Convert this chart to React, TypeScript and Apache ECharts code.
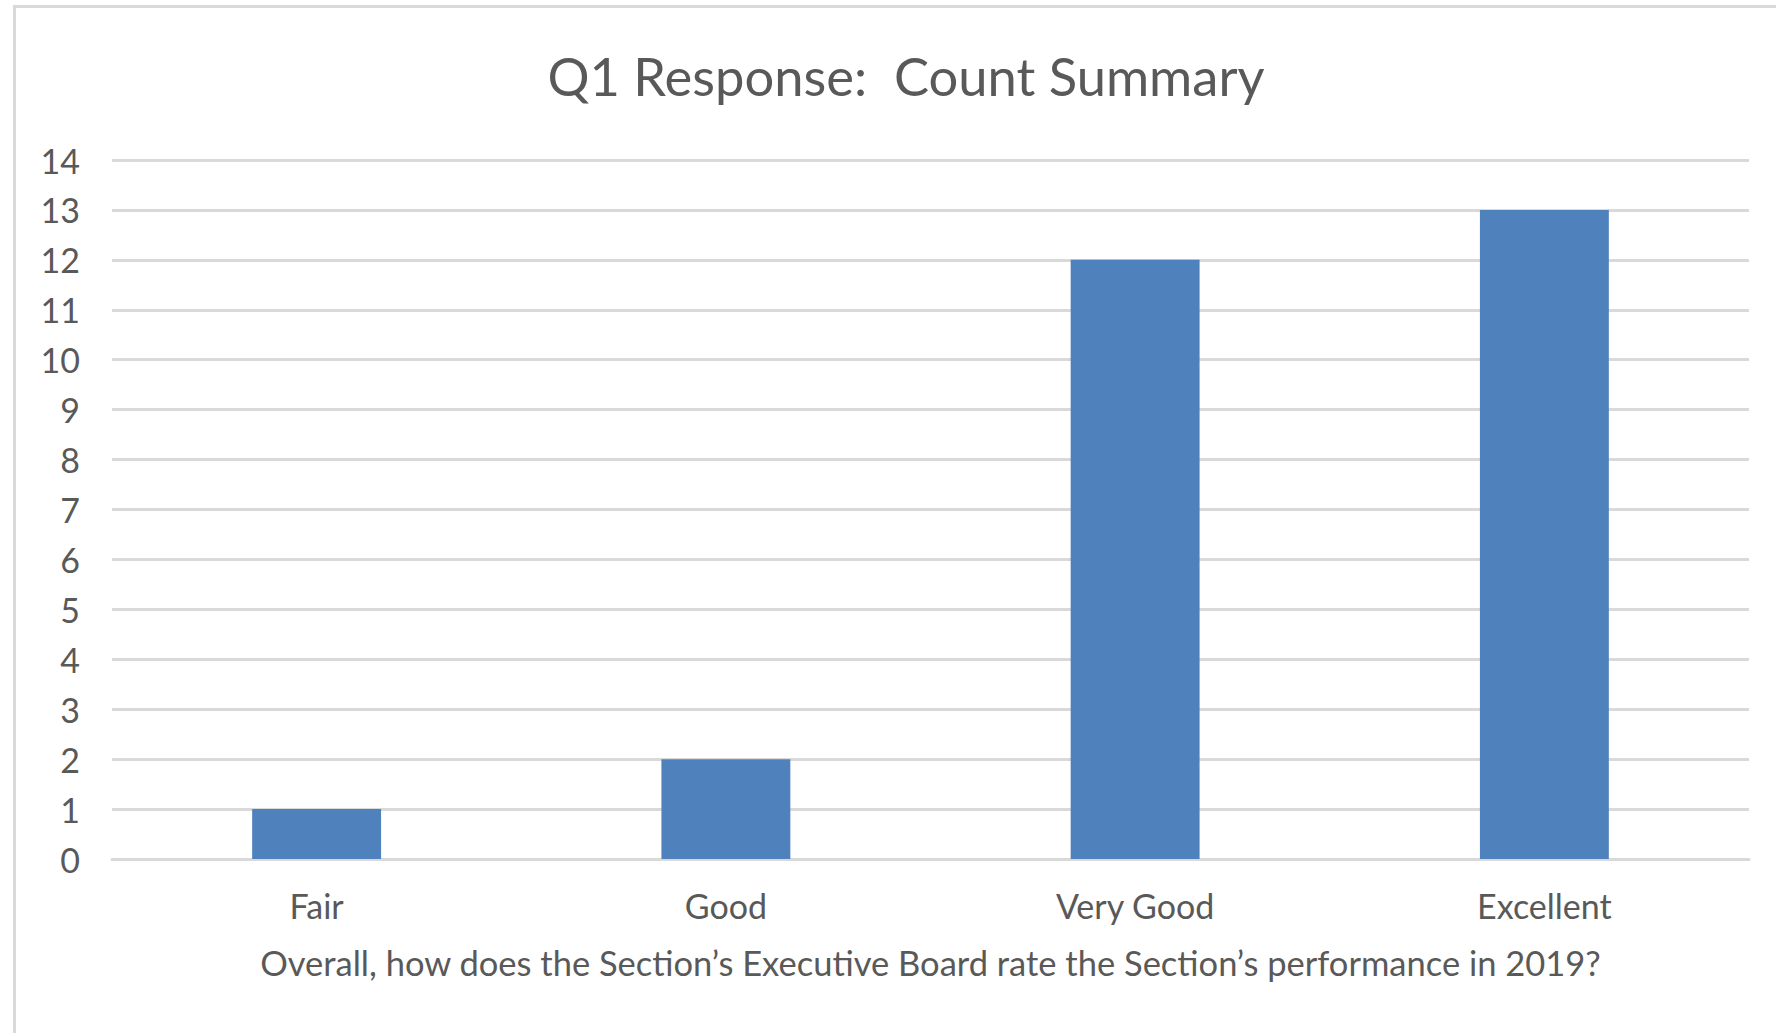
import React, { useEffect, useRef } from "react";
import * as echarts from "echarts";

const categories = ["Fair", "Good", "Very Good", "Excellent"];
const counts = [1, 2, 12, 13];
const yTicks = { min: 0, max: 14, interval: 1 };
const titleText = "Q1 Response:  Count Summary";
const xAxisTitle = "Overall, how does the Section\u2019s Executive Board rate the Section\u2019s performance in 2019?";

const FONT = "Lato, 'Noto Sans', sans-serif";
const TEXT = "#595959";
const GRID = "#d9d9d9";
const BAR = "#4f81bd";

export default function App() {
  const ref = useRef<HTMLDivElement>(null);
  useEffect(() => {
    if (!ref.current) return;
    const chart = echarts.init(ref.current, undefined, { renderer: "svg" });
    chart.setOption({
      animation: false,
      backgroundColor: "#ffffff",
      textStyle: { fontFamily: FONT, color: TEXT },
      graphic: [
        {
          type: "rect",
          shape: { x: 14.5, y: 6.5, width: 1900, height: 1200 },
          style: { fill: "none", stroke: GRID, lineWidth: 3 },
          silent: true,
        },
        {
          type: "text",
          x: 906,
          y: 75,
          style: {
            text: titleText,
            fontFamily: FONT,
            fontSize: 52.5,
            fill: TEXT,
            align: "center",
            verticalAlign: "middle",
          },
        },
      ],
      grid: { left: 112, right: 27, top: 160, bottom: 174, containLabel: false },
      xAxis: {
        type: "category",
        data: categories,
        axisLine: { lineStyle: { color: GRID, width: 3 } },
        axisTick: { show: false },
        axisLabel: { color: TEXT, fontFamily: FONT, fontSize: 34, margin: 29 },
        name: xAxisTitle,
        nameLocation: "middle",
        nameGap: 86,
        nameTextStyle: { color: TEXT, fontFamily: FONT, fontSize: 34.5 },
      },
      yAxis: {
        type: "value",
        min: yTicks.min,
        max: yTicks.max,
        interval: yTicks.interval,
        axisLine: { show: false },
        axisTick: { show: false },
        axisLabel: { color: TEXT, fontFamily: FONT, fontSize: 34, margin: 32 },
        splitLine: { lineStyle: { color: GRID, width: 3 } },
      },
      series: [
        {
          type: "bar",
          data: counts,
          barWidth: "31.5%",
          itemStyle: { color: BAR },
        },
      ],
    });
    return () => chart.dispose();
  }, []);
  return (
    <div
      ref={ref}
      style={{ position: "fixed", left: 0, top: 0, width: 1776, height: 1033 }}
    />
  );
}
